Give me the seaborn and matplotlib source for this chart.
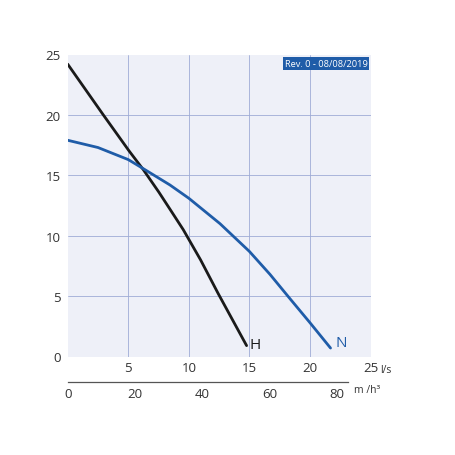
import matplotlib
matplotlib.use("Agg")
import matplotlib.pyplot as plt
import seaborn as sns
import pandas as pd

# Data (flow l/s vs head m)
h_flow = [0, 2.94, 5.08, 6.24, 7.53, 8.44, 9.54, 10.97, 12.43, 14.77]
h_head = [24.2, 20.0, 17.0, 15.47, 13.6, 12.2, 10.5, 8.0, 5.2, 0.9]
n_flow = [0, 2.5, 5.0, 6.24, 8.44, 10.0, 12.57, 15.0, 16.7, 18.34, 20.0, 21.7]
n_head = [17.9, 17.3, 16.3, 15.55, 14.2, 13.1, 11.0, 8.7, 6.8, 4.8, 2.8, 0.7]
x_ticks = [5, 10, 15, 20, 25]
y_ticks = [0, 5, 10, 15, 20, 25]
m3h_ticks = [0, 20, 40, 60, 80]
rev_label = "Rev. 0 - 08/08/2019"

BLUE = "#1f5ca8"
BLACK = "#1a1a1a"
BG = "#eef0f8"
GRID = "#9eabd6"
TXT = "#333333"

sns.set_style("white")
plt.rcParams['font.family'] = ['Open Sans', 'DejaVu Sans']

fig = plt.figure(figsize=(4.56, 4.56), dpi=100)
ax = fig.add_axes([67.7 / 456, 98.5 / 456, 302.8 / 456, 302.0 / 456])
ax.set_facecolor(BG)

df_h = pd.DataFrame({"flow": h_flow, "head": h_head})
df_n = pd.DataFrame({"flow": n_flow, "head": n_head})
sns.lineplot(data=df_h, x="flow", y="head", ax=ax, color=BLACK, lw=2.0,
             sort=False, estimator=None, zorder=3)
sns.lineplot(data=df_n, x="flow", y="head", ax=ax, color=BLUE, lw=2.0,
             sort=False, estimator=None, zorder=3)

ax.set_xlim(0, 25)
ax.set_ylim(0, 25)
for v in [5, 10, 15, 20]:
    ax.axvline(v, color=GRID, lw=0.6, zorder=1)
    ax.axhline(v, color=GRID, lw=0.6, zorder=1)
for s in ax.spines.values():
    s.set_visible(False)

ax.set_xticks(x_ticks)
ax.set_xticklabels([str(t) for t in x_ticks])
ax.set_yticks(y_ticks)
ax.set_yticklabels([str(t) for t in y_ticks])
ax.tick_params(axis='both', length=0, labelsize=9.5, labelcolor=TXT)
ax.tick_params(axis='x', pad=3)
ax.tick_params(axis='y', pad=5)
ax.set_xlabel("")
ax.set_ylabel("")

ax.text(25.8, -1.1, "l/s", fontsize=7.5, color=TXT, ha='left', va='center',
        clip_on=False)

ax.text(15.5, 1.0, "H", fontsize=11, color=BLACK, ha='center', va='center')
ax.text(22.6, 1.2, "N", fontsize=11, color=BLUE, ha='center', va='center')

ax.text(0.99, 0.984, rev_label, transform=ax.transAxes, ha='right', va='top',
        fontsize=6.7, color='white',
        bbox=dict(boxstyle='square,pad=0.2', fc=BLUE, ec='none'), zorder=5)

# secondary m3/h axis
ax2 = fig.add_axes([67.7 / 456, 73.3 / 456, 302.8 / 456, 0.001])
ax2.set_xlim(0, 90)
ax2.set_facecolor('none')
for k in ['top', 'left', 'right']:
    ax2.spines[k].set_visible(False)
ax2.spines['bottom'].set_bounds(0, 83.3)
ax2.spines['bottom'].set_color('#555555')
ax2.spines['bottom'].set_linewidth(0.9)
ax2.set_yticks([])
ax2.set_xticks(m3h_ticks)
ax2.set_xticklabels([str(t) for t in m3h_ticks])
ax2.tick_params(axis='x', direction='in', length=3, width=0.8, color='#555555',
                labelsize=9.5, labelcolor=TXT, pad=4)
ax2.text(85.2, -4, "m /h³", fontsize=7.5, color=TXT, ha='left', va='top',
         transform=ax2.get_xaxis_transform(), clip_on=False)

fig.savefig("out.png", dpi=100, facecolor='white')
